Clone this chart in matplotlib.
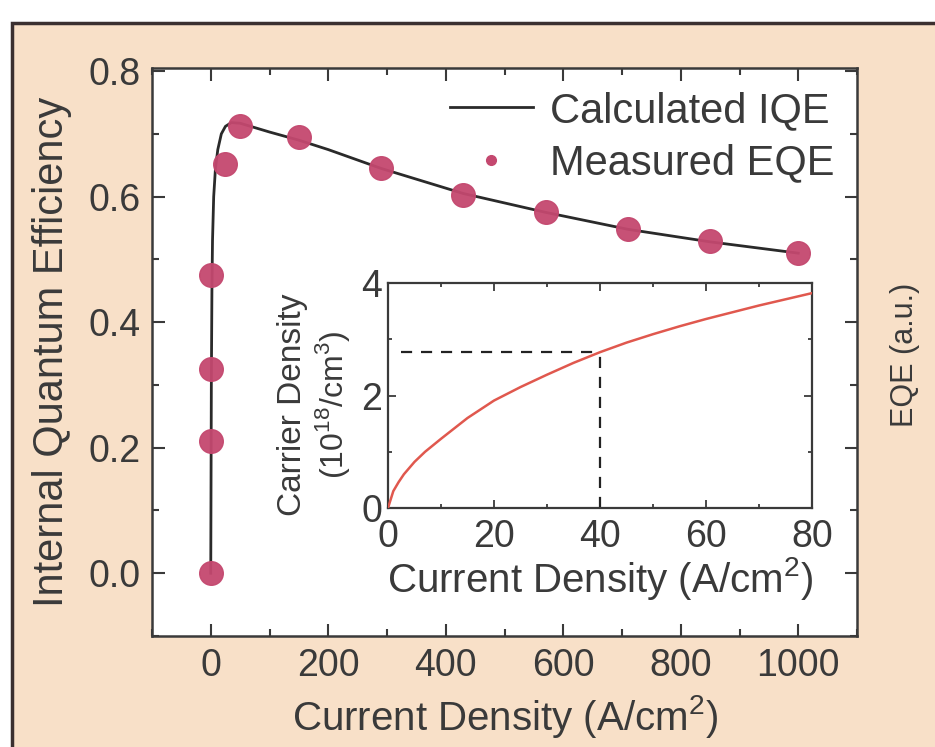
import matplotlib
matplotlib.use("Agg")
import matplotlib.pyplot as plt
from matplotlib.lines import Line2D
from matplotlib.patches import Rectangle
from matplotlib.ticker import MultipleLocator

plt.rcParams['font.family'] = ['Liberation Sans', 'DejaVu Sans']
plt.rcParams['mathtext.fontset'] = 'custom'
plt.rcParams['mathtext.rm'] = 'Liberation Sans'

# ---- data ----
iqe_x = [0, 0.5, 1, 2, 3, 5, 8, 12, 18, 25, 35, 50, 75, 100, 150, 200, 290, 430, 570, 710, 850, 1000]
iqe_y = [0.0, 0.15, 0.30, 0.45, 0.53, 0.60, 0.645, 0.675, 0.70, 0.712, 0.718, 0.717, 0.71, 0.703,
         0.69, 0.675, 0.645, 0.605, 0.575, 0.548, 0.528, 0.51]

eqe_x = [0, 1, 1, 1, 25, 50, 150, 290, 430, 570, 710, 850, 1000]
eqe_y = [0.0, 0.21, 0.325, 0.475, 0.652, 0.712, 0.695, 0.645, 0.603, 0.575, 0.548, 0.53, 0.51]

carrier_x = [0, 1, 2, 3, 5, 7, 10, 15, 20, 25, 30, 35, 40, 45, 50, 55, 60, 65, 70, 75, 80]
carrier_y = [0.0, 0.3, 0.46, 0.6, 0.82, 1.0, 1.23, 1.6, 1.91, 2.15, 2.37, 2.58, 2.77, 2.94,
             3.09, 3.23, 3.36, 3.48, 3.6, 3.71, 3.82]

mark_x = 40
mark_y = 2.77

main_xticks = [0, 200, 400, 600, 800, 1000]
main_yticks = [0.0, 0.2, 0.4, 0.6, 0.8]
inset_xticks = [0, 20, 40, 60, 80]
inset_yticks = [0, 2, 4]

# ---- style ----
W, H = 935, 747
txt = '#3a3a3a'
peach = '#f8e0c8'
pink = '#c4486f'
fs_tick = 27
fs_lab = 29
fs_leg = 30

fig = plt.figure(figsize=(W / 100, H / 100), dpi=100)
fig.patch.set_facecolor('white')
frame = Rectangle((12 / W, -0.05), 1.1, 1 - 23 / H + 0.05, transform=fig.transFigure,
                  facecolor=peach, edgecolor='#3b3030', linewidth=2.5, zorder=-10)
fig.add_artist(frame)

ax = fig.add_axes([152 / W, 1 - 636 / H, (857 - 152) / W, (636 - 68) / H])
ax.set_zorder(1)
ax.set_facecolor('white')
ax.plot(iqe_x, iqe_y, color='#2a2a2a', lw=2.0, zorder=2)
ax.plot(eqe_x, eqe_y, linestyle='none', marker='o', ms=17, color=pink, mec=pink, alpha=0.95, zorder=3)
ax.set_xlim(-100, 1100)
ax.set_ylim(-0.1, 0.805)
ax.set_xticks(main_xticks)
ax.set_yticks(main_yticks)
ax.set_yticklabels([f'{v:.1f}' for v in main_yticks])
ax.xaxis.set_minor_locator(MultipleLocator(100))
ax.yaxis.set_minor_locator(MultipleLocator(0.1))
ax.tick_params(which='both', direction='in', top=True, right=True, colors=txt, labelsize=fs_tick,
               width=1.5)
ax.tick_params(axis='x', pad=9)
ax.tick_params(axis='y', pad=8)
ax.tick_params(which='major', length=9)
ax.tick_params(which='minor', length=5)
for s in ax.spines.values():
    s.set_color(txt)
    s.set_linewidth(1.8)
ax.set_xlabel('Current Density (A/cm$^2$)', fontsize=fs_lab, color=txt, labelpad=6)
ax.set_ylabel('Internal Quantum Efficiency', fontsize=fs_lab + 1, color=txt, labelpad=12)
fig.text(905 / W, 1 - 355 / H, 'EQE (a.u.)', rotation=90, fontsize=22, color=txt,
         ha='center', va='center')

handles = [Line2D([], [], color='#2a2a2a', lw=2.0),
           Line2D([], [], linestyle='none', marker='o', ms=7, color=pink)]
ax.legend(handles, ['Calculated IQE', 'Measured EQE'], loc='upper right', bbox_to_anchor=(1.0, 1.0),
          frameon=False, fontsize=fs_leg, handlelength=2.0, handletextpad=0.4, labelspacing=0.3,
          labelcolor=txt, borderaxespad=0.15)

# ---- inset ----
ai = fig.add_axes([388 / W, 1 - 508 / H, (812 - 388) / W, (508 - 283) / H])
ai.set_zorder(2)
ai.set_facecolor('white')
ai.plot(carrier_x, carrier_y, color='#e0584e', lw=1.8, zorder=3)
ai.plot([2.5, mark_x], [mark_y, mark_y], color='#222222', lw=1.6, dashes=(5, 4))
ai.plot([mark_x, mark_x], [0, mark_y], color='#222222', lw=1.6, dashes=(5, 4))
ai.set_xlim(0, 80)
ai.set_ylim(0, 4)
ai.set_xticks(inset_xticks)
ai.set_yticks(inset_yticks)
ai.xaxis.set_minor_locator(MultipleLocator(10))
ai.yaxis.set_minor_locator(MultipleLocator(1))
ai.tick_params(which='both', direction='in', top=True, right=True, colors=txt, labelsize=fs_tick,
               width=1.3)
ai.tick_params(axis='x', pad=8)
ai.tick_params(axis='y', pad=4)
ai.tick_params(which='major', length=6)
ai.tick_params(which='minor', length=3)
for s in ai.spines.values():
    s.set_color(txt)
    s.set_linewidth(1.6)
ai.set_xlabel('Current Density (A/cm$^2$)', fontsize=fs_lab, color=txt, labelpad=0)
fig.text(292 / W, 1 - 405 / H, 'Carrier Density', rotation=90, fontsize=24, color=txt,
         ha='center', va='center')
fig.text(332 / W, 1 - 405 / H, '(10$^{18}$/cm$^3$)', rotation=90, fontsize=23, color=txt,
         ha='center', va='center')

fig.savefig('out.png', dpi=100, facecolor=fig.get_facecolor())
